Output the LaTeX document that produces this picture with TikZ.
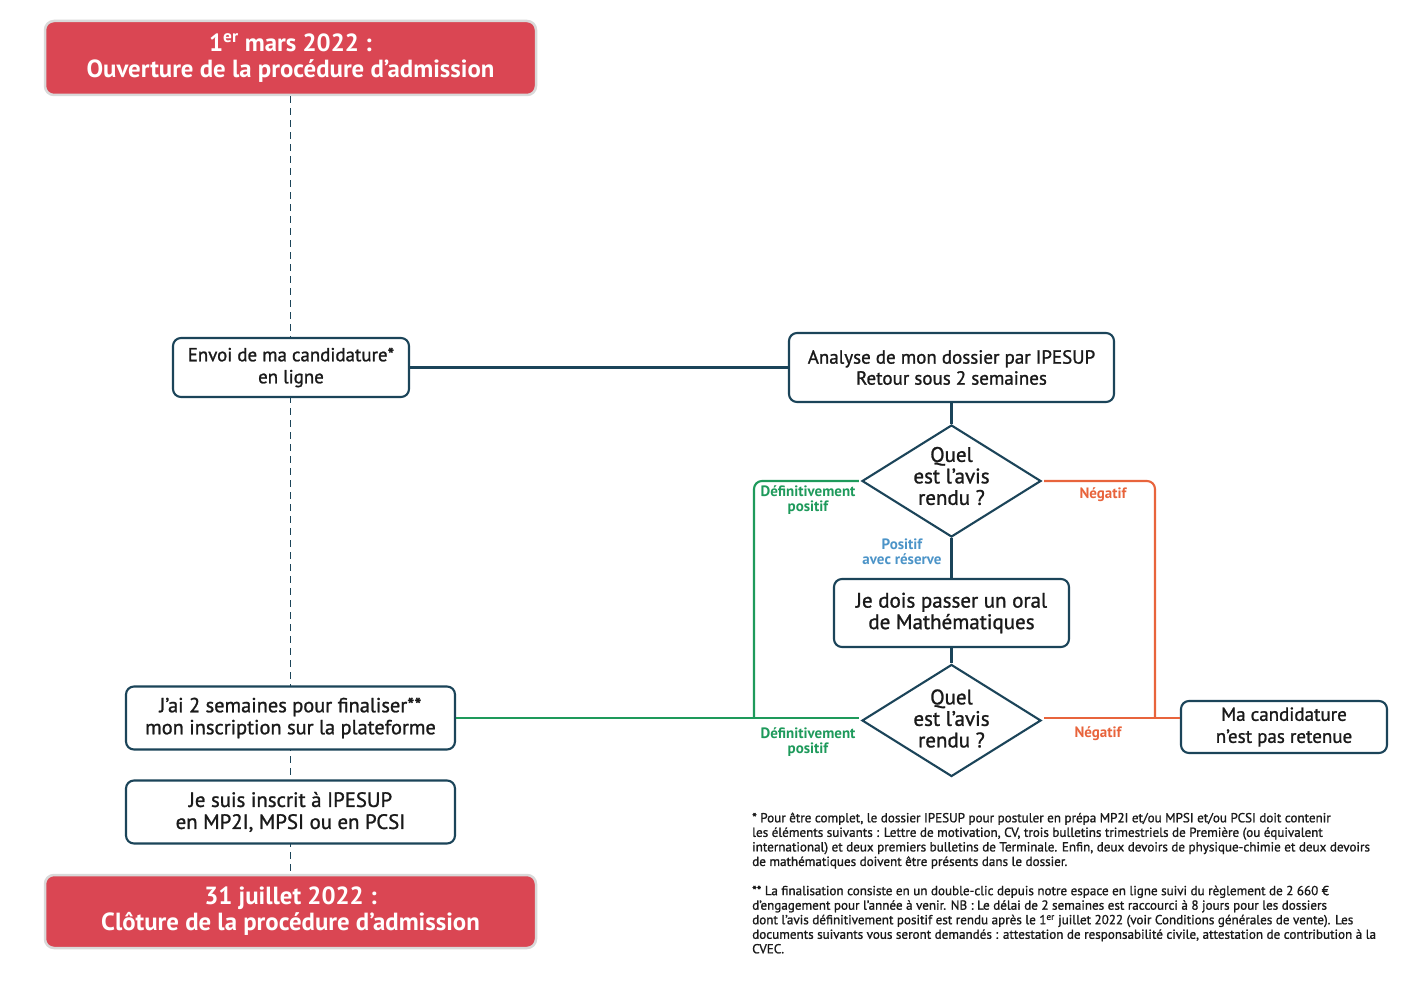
\documentclass[tikz,border=0pt]{standalone}
\usepackage{fontspec}
\setmainfont{PT Sans}
\newfontface\medfont{PT Sans}[FakeBold=1.2]
\usetikzlibrary{shapes.geometric}
\definecolor{boxc}{HTML}{1B4459}
\definecolor{gr}{HTML}{1E9A5B}
\definecolor{orr}{HTML}{E8643C}
\definecolor{bl}{HTML}{4C94C8}
\definecolor{rd}{HTML}{DA4653}
\definecolor{txt}{HTML}{1A1A1A}
\newcommand{\fsz}[1]{\fontsize{#1}{22}\selectfont}
\begin{document}
\begin{tikzpicture}[x=1pt,y=-1pt,
  stepbox/.style={draw=boxc, line width=2.1pt, rounded corners=8pt, fill=white, align=center,
    font=\medfont\fontsize{19}{22}\selectfont, text=txt, inner sep=0pt},
  redbox/.style={draw=gray!30, line width=2.5pt, rounded corners=9pt, fill=rd, align=center,
    font=\fontsize{24.8}{26}\selectfont\bfseries, text=white, inner sep=0pt},
  dia/.style={draw=boxc, line width=2.1pt, shape=diamond, fill=white, inner sep=0pt,
    minimum width=179pt, minimum height=112pt},
  diatext/.style={align=center, font=\medfont\fontsize{21}{21.5}\selectfont, text=txt},
  conn/.style={draw=boxc, line width=2.1pt},
  lab/.style={align=center, font=\fontsize{15}{15.5}\selectfont\bfseries},
  note/.style={align=left, anchor=north west, inner sep=0pt, font=\medfont\fontsize{13.1}{14.55}\selectfont, text=txt}
]
\useasboundingbox[fill=white] (0,0) rectangle (1418,981);

% nodes
\node[redbox, minimum width=491pt, minimum height=74pt] (open) at (290.5,58) {1\textsuperscript{er} mars 2022 :\\Ouverture de la procédure d’admission};
\node[redbox, minimum width=491pt, minimum height=73pt] (close) at (290.5,911.5) {31 juillet 2022 :\\Clôture de la procédure d’admission};

\draw[conn, dash pattern=on 7pt off 5pt, line width=1.6pt] (open.south) -- (close.north);

\node[stepbox, minimum width=236pt, minimum height=59pt, font=\medfont\fsz{18.9}] (envoi) at (291,367.5) {Envoi de ma candidature*\\en ligne};
\node[stepbox, minimum width=325pt, minimum height=69pt, font=\medfont\fontsize{19}{21}\selectfont] (analyse) at (951.5,367.5) {Analyse de mon dossier par IPESUP\\Retour sous 2 semaines};
\node[dia] (d1) at (951.5,481) {};
\node[diatext] (d1t) at (951.5,476) {Quel\\est l’avis\\rendu ?};
\node[stepbox, minimum width=235pt, minimum height=68pt, font=\medfont\fontsize{21}{21.5}\selectfont] (oral) at (951.5,613) {Je dois passer un oral\\de Mathématiques};
\node[dia] (d2) at (951.5,720.5) {};
\node[diatext] (d2t) at (951.5,718.5) {Quel\\est l’avis\\rendu ?};
\node[stepbox, minimum width=206pt, minimum height=52pt] (rej) at (1284,727) {Ma candidature\\n’est pas retenue};
\node[stepbox, minimum width=329pt, minimum height=63pt, font=\medfont\fsz{20.4}] (fin) at (290.5,718) {J’ai 2 semaines pour finaliser**\\mon inscription sur la plateforme};
\node[stepbox, minimum width=329pt, minimum height=63pt, font=\medfont\fsz{20.8}] (ins) at (290.5,812) {Je suis inscrit à IPESUP\\en MP2I, MPSI ou en PCSI};

% connectors
\draw[conn] (envoi.east) -- (analyse.west);
\draw[conn] (analyse.south) -- (d1.north);
\draw[conn] (d1.south) -- (oral.north);
\draw[conn] (oral.south) -- (d2.north);

\coordinate (gc) at (754,718);
\coordinate (oc) at (1155,718);
\draw[gr, line width=2.1pt, rounded corners=8pt] ([xshift=-2pt]d1.west) -| (gc);
\draw[gr, line width=2.1pt] (fin.east |- gc) -- ([xshift=-2pt]d2.west |- gc);
\draw[orr, line width=2.1pt, rounded corners=8pt] ([xshift=2pt]d1.east) -| (oc);
\draw[orr, line width=2.1pt] ([xshift=2pt]d2.east |- oc) -- (rej.west |- oc);

% labels
\node[lab, text=gr] (l1) at (808,500) {Définitivement\\positif};
\node[lab, text=orr] (l2) at (1103,495) {Négatif};
\node[lab, text=bl] (l3) at (902,552) {Positif\\avec réserve};
\node[lab, text=gr] (l4) at (808,742) {Définitivement\\positif};
\node[lab, text=orr] (l5) at (1098,734) {Négatif};

% notes
\node[note] (n1) at (752,812.5) {* Pour être complet, le dossier IPESUP pour postuler en prépa MP2I et/ou MPSI et/ou PCSI doit contenir\\
les éléments suivants : Lettre de motivation, CV, trois bulletins trimestriels de Première (ou équivalent\\
international) et deux premiers bulletins de Terminale. Enfin, deux devoirs de physique-chimie et deux devoirs\\
de mathématiques doivent être présents dans le dossier.};
\node[note] (n2) at (752,885.5) {** La finalisation consiste en un double-clic depuis notre espace en ligne suivi du règlement de 2 660 €\\
d’engagement pour l’année à venir. NB : Le délai de 2 semaines est raccourci à 8 jours pour les dossiers\\
dont l’avis définitivement positif est rendu après le 1\textsuperscript{er} juillet 2022 (voir Conditions générales de vente). Les\\
documents suivants vous seront demandés : attestation de responsabilité civile, attestation de contribution à la\\
CVEC.};
\end{tikzpicture}
\end{document}
